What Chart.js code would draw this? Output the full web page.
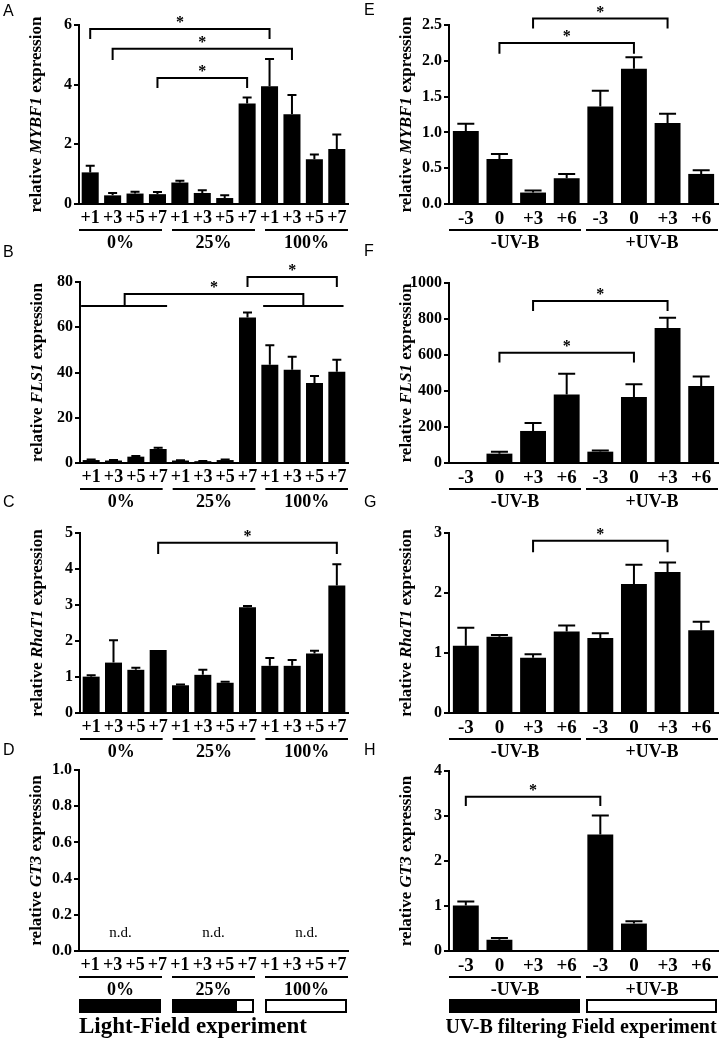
<!DOCTYPE html>
<html>
<head>
<meta charset="utf-8">
<script src="https://cdn.jsdelivr.net/npm/chart.js@4.4.1/dist/chart.umd.min.js"></script>
<style>
  body { margin: 0; background: #fff; }
  #fig { position: relative; width: 722px; height: 1041px; overflow: hidden; background: #fff; }
  #fig canvas { position: absolute; }
</style>
</head>
<body>
<div id="fig"></div>
<script>
// categories
const lightDays = ['+1', '+3', '+5', '+7', '+1', '+3', '+5', '+7', '+1', '+3', '+5', '+7'];
const lightGroups = ['0%', '25%', '100%'];
const uvDays = ['-3', '0', '+3', '+6', '-3', '0', '+3', '+6'];
const uvGroups = ['-UV-B', '+UV-B'];

// Light-Field experiment (mean, SEM)
const mybf1Light = [1.06, 0.29, 0.35, 0.33, 0.72, 0.37, 0.2, 3.37, 3.95, 3.01, 1.5, 1.84];
const mybf1LightErr = [0.22, 0.08, 0.06, 0.07, 0.06, 0.09, 0.09, 0.2, 0.91, 0.64, 0.16, 0.49];
const fls1Light = [1.3, 1.1, 2.8, 6.2, 1.1, 0.8, 1.3, 64.3, 43.4, 41.2, 35.4, 40.3];
const fls1LightErr = [0.2, 0.2, 0.3, 0.5, 0.1, 0.1, 0.2, 2.2, 8.6, 5.8, 3.1, 5.3];
const rhat1Light = [1.01, 1.4, 1.2, 1.75, 0.77, 1.06, 0.84, 2.94, 1.31, 1.31, 1.65, 3.54];
const rhat1LightErr = [0.04, 0.62, 0.06, 0, 0.02, 0.14, 0.03, 0.03, 0.22, 0.16, 0.08, 0.59];
const gt3Light = [null, null, null, null, null, null, null, null, null, null, null, null];
const gt3LightErr = [null, null, null, null, null, null, null, null, null, null, null, null];
const gt3LightNote = ['n.d.', 'n.d.', 'n.d.'];

// UV-B filtering Field experiment
const mybf1Uv = [1.02, 0.63, 0.16, 0.36, 1.36, 1.89, 1.13, 0.42];
const mybf1UvErr = [0.1, 0.07, 0.03, 0.06, 0.22, 0.16, 0.13, 0.05];
const fls1Uv = [3, 52, 178, 380, 63, 367, 750, 428];
const fls1UvErr = [0, 11, 44, 116, 7, 70, 57, 53];
const rhat1Uv = [1.12, 1.27, 0.92, 1.36, 1.25, 2.15, 2.35, 1.38];
const rhat1UvErr = [0.3, 0.03, 0.06, 0.1, 0.08, 0.32, 0.16, 0.14];
const gt3Uv = [1.01, 0.25, 0, 0, 2.59, 0.61, 0, 0];
const gt3UvErr = [0.09, 0.04, 0, 0, 0.42, 0.05, 0, 0];

// y tick labels
const ticksA = [0, 2, 4, 6];
const ticksB = [0, 20, 40, 60, 80];
const ticksC = [0, 1, 2, 3, 4, 5];
const ticksD = [0, 0.2, 0.4, 0.6, 0.8, 1.0];
const ticksE = [0, 0.5, 1.0, 1.5, 2.0, 2.5];
const ticksF = [0, 200, 400, 600, 800, 1000];
const ticksG = [0, 1, 2, 3];
const ticksH = [0, 1, 2, 3, 4];

// significance brackets: [from index, to index, top value, foot value]
const bracketsA = [[0, 8, 5.87, 5.53], [1, 9, 5.2, 4.83], [3, 7, 4.22, 3.89]];
const bracketsB = [[1.5, 9.5, 74.7, 69.4], [7, 11, 82.2, 77.8]];
const spansB = [[-0.45, 3.4, 69.4], [7.7, 11.3, 69.4]];
const bracketsC = [[3, 11, 4.73, 4.42]];
const bracketsE = [[2, 6, 2.59, 2.45], [1, 5, 2.25, 2.1]];
const bracketsF = [[2, 6, 900, 844], [1, 5, 613, 559]];
const bracketsG = [[2, 6, 2.87, 2.68]];
const bracketsH = [[0, 4, 3.43, 3.22]];

// light transmission boxes (black fraction)
const lightBoxes = [1, 0.8, 0];
const uvBoxes = [1, 0];

const SERIF = "'Liberation Serif', 'Times New Roman', serif";
const SANS = "'Liberation Sans', Arial, sans-serif";

const L = { x: 0, w: 361 }, R = { x: 361, w: 361 };
const panels = [
  { letter: 'A', pos: [3, 16], canvas: { ...L, y: 0, h: 262 }, area: { l: 79, t: 25, r: 348, b: 204 },
    gene: 'MYBF1', labels: lightDays, values: mybf1Light, errs: mybf1LightErr, ticks: ticksA, dec: 0,
    brackets: bracketsA, groups: lightGroups },
  { letter: 'B', pos: [3, 257], canvas: { ...L, y: 240, h: 272 }, area: { l: 80, t: 282, r: 348, b: 463 },
    gene: 'FLS1', labels: lightDays, values: fls1Light, errs: fls1LightErr, ticks: ticksB, dec: 0,
    brackets: bracketsB, spans: spansB, groups: lightGroups },
  { letter: 'C', pos: [3, 507], canvas: { ...L, y: 490, h: 272 }, area: { l: 80, t: 533, r: 348, b: 713 },
    gene: 'RhaT1', labels: lightDays, values: rhat1Light, errs: rhat1LightErr, ticks: ticksC, dec: 0,
    brackets: bracketsC, groups: lightGroups },
  { letter: 'D', pos: [3, 755], canvas: { ...L, y: 740, h: 301 }, area: { l: 79, t: 770, r: 348, b: 951 },
    gene: 'GT3', labels: lightDays, values: gt3Light, errs: gt3LightErr, ticks: ticksD, dec: 1,
    groups: lightGroups, notes: gt3LightNote, boxes: lightBoxes,
    title: { text: 'Light-Field experiment', x: 193, y: 1033, size: 23 } },
  { letter: 'E', pos: [364, 15], canvas: { ...R, y: 0, h: 262 }, area: { l: 449, t: 25, r: 718, b: 204 },
    gene: 'MYBF1', labels: uvDays, values: mybf1Uv, errs: mybf1UvErr, ticks: ticksE, dec: 1,
    brackets: bracketsE, groups: uvGroups },
  { letter: 'F', pos: [364, 256], canvas: { ...R, y: 240, h: 272 }, area: { l: 449, t: 283, r: 718, b: 463 },
    gene: 'FLS1', labels: uvDays, values: fls1Uv, errs: fls1UvErr, ticks: ticksF, dec: 0,
    brackets: bracketsF, groups: uvGroups },
  { letter: 'G', pos: [364, 507], canvas: { ...R, y: 490, h: 272 }, area: { l: 449, t: 533, r: 718, b: 713 },
    gene: 'RhaT1', labels: uvDays, values: rhat1Uv, errs: rhat1UvErr, ticks: ticksG, dec: 0,
    brackets: bracketsG, groups: uvGroups },
  { letter: 'H', pos: [364, 755], canvas: { ...R, y: 740, h: 301 }, area: { l: 449, t: 771, r: 718, b: 951 },
    gene: 'GT3', labels: uvDays, values: gt3Uv, errs: gt3UvErr, ticks: ticksH, dec: 0,
    brackets: bracketsH, groups: uvGroups, boxes: uvBoxes,
    title: { text: 'UV-B filtering Field experiment', x: 581, y: 1033, size: 20 } }
];

function groupSpans(p, area) {
  const n = p.groups.length;
  const gap = n === 3 ? 10 : 5;
  const w = (area.right - area.left - gap * (n - 1)) / n;
  return p.groups.map((g, i) => {
    const x0 = area.left + i * (w + gap);
    return [x0, x0 + w];
  });
}

function deco(p, light) {
  const cap = light ? 9 : 17;
  return {
    id: 'deco' + p.letter,
    afterDatasetsDraw(chart) {
      const ctx = chart.ctx, ys = chart.scales.y;
      const meta = chart.getDatasetMeta(0);
      ctx.save();
      ctx.strokeStyle = '#000';
      ctx.lineWidth = 2;
      meta.data.forEach((bar, i) => {
        const e = p.errs[i];
        if (!e || p.values[i] == null) return;
        const top = ys.getPixelForValue(p.values[i] + e);
        ctx.beginPath();
        ctx.moveTo(bar.x, bar.y);
        ctx.lineTo(bar.x, top);
        ctx.moveTo(bar.x - cap / 2, top);
        ctx.lineTo(bar.x + cap / 2, top);
        ctx.stroke();
      });
      ctx.restore();
    },
    afterDraw(chart) {
      const ctx = chart.ctx, xs = chart.scales.x, ys = chart.scales.y;
      const area = chart.chartArea;
      const ox = p.canvas.x, oy = p.canvas.y;
      ctx.save();
      ctx.fillStyle = '#000';
      ctx.strokeStyle = '#000';
      ctx.lineWidth = 2;

      // panel letter
      ctx.font = '16px ' + SANS;
      ctx.textAlign = 'left';
      ctx.textBaseline = 'alphabetic';
      ctx.fillText(p.letter, p.pos[0] - ox, p.pos[1] - oy);

      // y axis title with italic gene name
      const segs = [['relative ', 'bold 17px '], [p.gene, 'italic bold 17px '], [' expression', 'bold 17px ']];
      ctx.save();
      ctx.translate(area.left - 42, (area.top + area.bottom) / 2);
      ctx.rotate(-Math.PI / 2);
      ctx.textBaseline = 'middle';
      let total = 0;
      segs.forEach(s => { ctx.font = s[1] + SERIF; total += ctx.measureText(s[0]).width; });
      let tx = -total / 2;
      segs.forEach(s => {
        ctx.font = s[1] + SERIF;
        ctx.fillText(s[0], tx, 0);
        tx += ctx.measureText(s[0]).width;
      });
      ctx.restore();

      // flat group lines
      (p.spans || []).forEach(s => {
        const yy = ys.getPixelForValue(s[2]);
        ctx.beginPath();
        ctx.moveTo(xs.getPixelForValue(s[0]), yy);
        ctx.lineTo(xs.getPixelForValue(s[1]), yy);
        ctx.stroke();
      });

      // significance brackets
      (p.brackets || []).forEach(b => {
        const xa = xs.getPixelForValue(b[0]), xb = xs.getPixelForValue(b[1]);
        const yt = ys.getPixelForValue(b[2]), yf = ys.getPixelForValue(b[3]);
        ctx.beginPath();
        ctx.moveTo(xa, yf);
        ctx.lineTo(xa, yt);
        ctx.lineTo(xb, yt);
        ctx.lineTo(xb, yf);
        ctx.stroke();
        ctx.font = 'bold 16px ' + SERIF;
        ctx.textAlign = 'center';
        ctx.textBaseline = 'alphabetic';
        ctx.fillText('*', (xa + xb) / 2, yt - 2);
      });

      // group underlines and labels
      const spans = groupSpans(p, area);
      spans.forEach((s, i) => {
        const yl = area.bottom + 26;
        ctx.beginPath();
        ctx.moveTo(s[0], yl);
        ctx.lineTo(s[1], yl);
        ctx.stroke();
        ctx.font = 'bold 18px ' + SERIF;
        ctx.textAlign = 'center';
        ctx.textBaseline = 'middle';
        ctx.fillText(p.groups[i], (s[0] + s[1]) / 2, area.bottom + 39);
        if (p.notes) {
          ctx.font = '15px ' + SERIF;
          ctx.fillText(p.notes[i], (s[0] + s[1]) / 2, area.bottom - 18);
        }
        if (p.boxes) {
          const x0 = s[0] + 1, x1 = s[1] - 2, y0 = area.bottom + 49, h = 12;
          ctx.fillStyle = '#fff';
          ctx.fillRect(x0, y0, x1 - x0, h);
          ctx.fillStyle = '#000';
          ctx.fillRect(x0, y0, (x1 - x0) * p.boxes[i], h);
          ctx.strokeRect(x0, y0, x1 - x0, h);
        }
      });

      // experiment title
      if (p.title) {
        ctx.font = 'bold ' + p.title.size + 'px ' + SERIF;
        ctx.textAlign = 'center';
        ctx.textBaseline = 'alphabetic';
        ctx.fillText(p.title.text, p.title.x - ox, p.title.y - oy);
      }
      ctx.restore();
    }
  };
}

function makeChart(p) {
  const light = p.labels.length === 12;
  const cv = document.createElement('canvas');
  cv.width = p.canvas.w;
  cv.height = p.canvas.h;
  cv.style.left = p.canvas.x + 'px';
  cv.style.top = p.canvas.y + 'px';
  cv.style.width = p.canvas.w + 'px';
  cv.style.height = p.canvas.h + 'px';
  document.getElementById('fig').appendChild(cv);

  const chart = new Chart(cv.getContext('2d'), {
    type: 'bar',
    data: {
      labels: p.labels,
      datasets: [{
        data: p.values,
        backgroundColor: '#000',
        borderWidth: 0,
        barPercentage: light ? 0.76 : 0.77,
        categoryPercentage: 1
      }]
    },
    options: {
      responsive: false,
      animation: false,
      devicePixelRatio: 1,
      layout: { padding: { left: 0, top: 0, right: 0, bottom: 0 } },
      plugins: { legend: { display: false }, tooltip: { enabled: false } },
      scales: {
        x: {
          offset: true,
          grid: { display: false, drawTicks: false },
          border: { display: true, color: '#000', width: 2 },
          ticks: {
            color: '#000', padding: 4, maxRotation: 0, autoSkip: false,
            font: { family: SERIF, weight: 'bold', size: light ? 18 : 19 }
          },
          afterFit: s => { s.height = 24; }
        },
        y: {
          min: 0,
          max: p.ticks[p.ticks.length - 1],
          grid: { drawOnChartArea: false, drawTicks: true, tickLength: 5, color: '#000', lineWidth: 2 },
          border: { display: true, color: '#000', width: 2 },
          ticks: {
            color: '#000', padding: 2,
            font: { family: SERIF, weight: 'bold', size: 16 },
            callback: v => Number(v).toFixed(p.dec)
          },
          afterBuildTicks: s => { s.ticks = p.ticks.map(v => ({ value: v })); },
          afterFit: s => { s.width = 40; }
        }
      }
    },
    plugins: [deco(p, light)]
  });

  // move the plot area onto the reference's axes
  const target = {
    left: p.area.l - p.canvas.x, top: p.area.t - p.canvas.y,
    right: p.area.r - p.canvas.x, bottom: p.area.b - p.canvas.y
  };
  const pad = { left: 0, top: 0, right: 0, bottom: 0 };
  for (let k = 0; k < 4; k++) {
    const a = chart.chartArea;
    const dl = target.left - a.left, dt = target.top - a.top;
    const dr = a.right - target.right, db = a.bottom - target.bottom;
    if (Math.abs(dl) + Math.abs(dt) + Math.abs(dr) + Math.abs(db) < 0.5) break;
    pad.left += dl; pad.top += dt; pad.right += dr; pad.bottom += db;
    chart.options.layout.padding = { ...pad };
    chart.update('none');
  }
  return chart;
}

panels.forEach(makeChart);
</script>
</body>
</html>
